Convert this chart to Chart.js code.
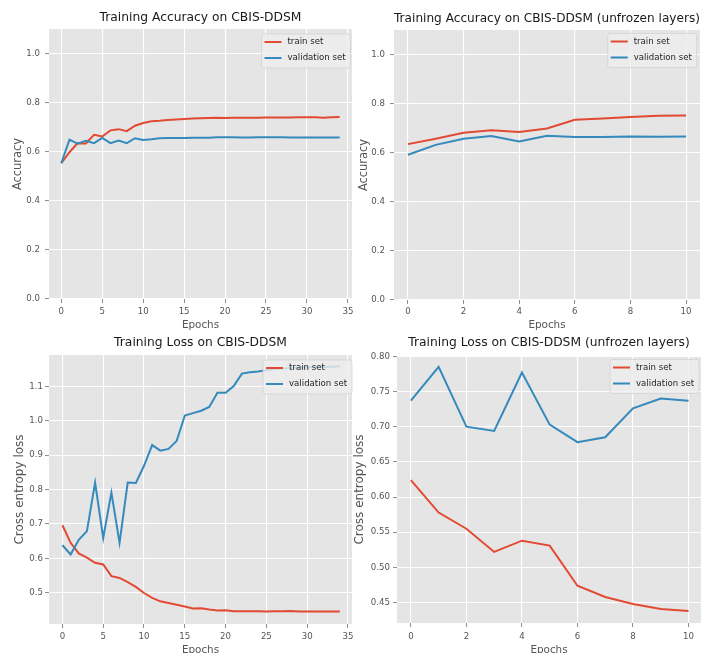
<!DOCTYPE html>
<html>
<head>
<meta charset="utf-8">
<script src="https://cdn.jsdelivr.net/npm/chart.js@4.4.0/dist/chart.umd.min.js"></script>
<style>
  html, body { margin: 0; padding: 0; background: #fff; }
  #wrap { position: relative; width: 704px; height: 653px; overflow: hidden; }
  #wrap canvas { position: absolute; left: 0; top: 0; }
</style>
</head>
<body>
<div id="wrap">
  <canvas id="accFull" width="704" height="653"></canvas>
  <canvas id="accUnfrozen" width="704" height="653"></canvas>
  <canvas id="lossFull" width="704" height="653"></canvas>
  <canvas id="lossUnfrozen" width="704" height="653"></canvas>
</div>
<script>
// epochs
const epochsFull = [0, 1, 2, 3, 4, 5, 6, 7, 8, 9, 10, 11, 12, 13, 14, 15, 16, 17, 18, 19, 20,
  21, 22, 23, 24, 25, 26, 27, 28, 29, 30, 31, 32, 33, 34];
const epochsUnfrozen = [0, 1, 2, 3, 4, 5, 6, 7, 8, 9, 10];

// accuracy, all epochs
const accTrainFull = [0.553, 0.598, 0.635, 0.634, 0.669, 0.662, 0.687, 0.692, 0.684, 0.706, 0.717,
  0.724, 0.726, 0.729, 0.731, 0.733, 0.735, 0.736, 0.737, 0.738, 0.737, 0.738, 0.738, 0.738, 0.738,
  0.739, 0.739, 0.739, 0.739, 0.740, 0.740, 0.740, 0.738, 0.740, 0.741];
const accValFull = [0.553, 0.649, 0.633, 0.645, 0.635, 0.656, 0.635, 0.646, 0.635, 0.655, 0.648,
  0.651, 0.655, 0.656, 0.656, 0.656, 0.657, 0.657, 0.657, 0.659, 0.659, 0.659, 0.658, 0.658, 0.659,
  0.659, 0.659, 0.659, 0.658, 0.658, 0.658, 0.658, 0.658, 0.658, 0.658];

// accuracy, unfrozen layers
const accTrainUnfrozen = [0.635, 0.657, 0.681, 0.692, 0.684, 0.699, 0.734, 0.739, 0.746, 0.751, 0.752];
const accValUnfrozen = [0.592, 0.632, 0.657, 0.668, 0.646, 0.669, 0.664, 0.664, 0.666, 0.665, 0.666];

// loss, all epochs
const lossTrainFull = [0.696, 0.645, 0.614, 0.602, 0.587, 0.582, 0.548, 0.543, 0.531, 0.517, 0.499,
  0.485, 0.475, 0.470, 0.465, 0.460, 0.454, 0.455, 0.451, 0.448, 0.449, 0.446, 0.446, 0.446, 0.446,
  0.445, 0.446, 0.446, 0.447, 0.445, 0.445, 0.445, 0.445, 0.445, 0.445];
const lossValFull = [0.638, 0.611, 0.654, 0.679, 0.820, 0.659, 0.791, 0.645, 0.820, 0.819, 0.869,
  0.929, 0.913, 0.918, 0.941, 1.015, 1.022, 1.029, 1.040, 1.081, 1.081, 1.101, 1.137, 1.141, 1.143,
  1.147, 1.150, 1.152, 1.153, 1.154, 1.155, 1.156, 1.156, 1.157, 1.158];

// loss, unfrozen layers
const lossTrainUnfrozen = [0.624, 0.578, 0.555, 0.522, 0.538, 0.531, 0.474, 0.458, 0.448, 0.441, 0.438];
const lossValUnfrozen = [0.737, 0.785, 0.700, 0.694, 0.777, 0.703, 0.678, 0.685, 0.726, 0.740, 0.737];

// tick values
const xTicksFull = [0, 5, 10, 15, 20, 25, 30, 35];
const xTicksUnfrozen = [0, 2, 4, 6, 8, 10];
const accTicks = [0.0, 0.2, 0.4, 0.6, 0.8, 1.0];
const lossTicksFull = [0.5, 0.6, 0.7, 0.8, 0.9, 1.0, 1.1];
const lossTicksUnfrozen = [0.45, 0.50, 0.55, 0.60, 0.65, 0.70, 0.75, 0.80];

const seriesLabels = ['train set', 'validation set'];

const W = 704, H = 653;
const FONT = "'DejaVu Sans', sans-serif";
const TITLE_SIZE = 12.3, XLABEL_SIZE = 10.4, TICK_SIZE = 8.6, LH = 1.2, TICK_LEN = 4;
const RED = '#E24A33', BLUE = '#348ABD';
const TEXT_GREY = '#555555';

function toPoints(xs, ys) {
  return xs.map((x, i) => ({ x: x, y: ys[i] }));
}

const plotBg = {
  id: 'plotBg',
  beforeDraw(chart) {
    const a = chart.chartArea, ctx = chart.ctx;
    ctx.save();
    ctx.fillStyle = '#E5E5E5';
    ctx.fillRect(a.left, a.top, a.right - a.left, a.bottom - a.top);
    ctx.restore();
  }
};

// matplotlib-like legend box in the upper right of the axes
function boxLegend(geo) {
  return {
    id: 'boxLegend',
    afterDatasetsDraw(chart) {
      const a = chart.chartArea, ctx = chart.ctx;
      const bw = 89, bh = 34;
      const bx = a.right - geo.right - bw, by = a.top + geo.top;
      ctx.save();
      ctx.beginPath();
      if (ctx.roundRect) ctx.roundRect(bx, by, bw, bh, 2.5); else ctx.rect(bx, by, bw, bh);
      ctx.fillStyle = 'rgba(238,238,238,0.8)';
      ctx.fill();
      ctx.strokeStyle = 'rgba(204,204,204,0.8)';
      ctx.lineWidth = 0.8;
      ctx.stroke();
      ctx.font = TICK_SIZE + 'px ' + FONT;
      ctx.textBaseline = 'middle';
      ctx.textAlign = 'left';
      chart.data.datasets.forEach((ds, i) => {
        const y = by + 8 + i * 16;
        ctx.strokeStyle = ds.borderColor;
        ctx.lineWidth = 2;
        ctx.beginPath();
        ctx.moveTo(bx + 3, y);
        ctx.lineTo(bx + 20, y);
        ctx.stroke();
        ctx.fillStyle = '#262626';
        ctx.fillText(ds.label, bx + 26, y);
      });
      ctx.restore();
    }
  };
}

function buildChart(id, spec) {
  const a = spec.area;
  const tLH = TITLE_SIZE * LH, xlLH = XLABEL_SIZE * LH, ylLH = spec.yLabelSize * LH, kLH = TICK_SIZE * LH;
  const gridOpts = { color: '#ffffff', lineWidth: 1.1, drawTicks: true, tickLength: TICK_LEN, tickColor: '#8a8a8a', tickWidth: 1 };
  return new Chart(document.getElementById(id).getContext('2d'), {
    type: 'line',
    data: {
      datasets: [
        { label: seriesLabels[0], data: toPoints(spec.x, spec.train), borderColor: RED, order: 1 },
        { label: seriesLabels[1], data: toPoints(spec.x, spec.val), borderColor: BLUE, order: 0 }
      ]
    },
    options: {
      responsive: false,
      animation: false,
      events: [],
      layout: { padding: { left: 0, top: 0, right: W - a.r, bottom: 0 } },
      elements: {
        line: { borderWidth: 2, tension: 0, fill: false },
        point: { radius: 0 }
      },
      plugins: {
        legend: { display: false },
        tooltip: { enabled: false },
        title: {
          display: true,
          text: spec.title,
          fullSize: false,
          color: '#1a1a1a',
          font: { family: FONT, size: TITLE_SIZE, weight: 'normal', lineHeight: LH },
          padding: { top: spec.titleY - tLH / 2, bottom: a.t - spec.titleY - tLH / 2 }
        }
      },
      scales: {
        x: {
          type: 'linear',
          position: 'bottom',
          min: spec.xMin,
          max: spec.xMax,
          afterBuildTicks: s => { s.ticks = spec.xTicks.map(v => ({ value: v })); },
          afterFit: s => { s.height = H - a.b; },
          grid: gridOpts,
          border: { display: false },
          ticks: {
            autoSkip: false, maxRotation: 0, color: TEXT_GREY,
            font: { family: FONT, size: TICK_SIZE, lineHeight: LH },
            padding: spec.xTickY - a.b - TICK_LEN - kLH / 2,
            callback: v => String(v)
          },
          title: {
            display: true, text: 'Epochs', color: TEXT_GREY,
            font: { family: FONT, size: XLABEL_SIZE, lineHeight: LH },
            padding: { top: 0, bottom: H - spec.xLabelY - xlLH / 2 }
          }
        },
        y: {
          type: 'linear',
          position: 'left',
          min: spec.yMin,
          max: spec.yMax,
          afterBuildTicks: s => { s.ticks = spec.yTicks.map(v => ({ value: v })); },
          afterFit: s => { s.width = a.l; },
          grid: gridOpts,
          border: { display: false },
          ticks: {
            color: TEXT_GREY,
            font: { family: FONT, size: TICK_SIZE, lineHeight: LH },
            padding: a.l - TICK_LEN - spec.yTickRight,
            callback: v => v.toFixed(spec.decimals)
          },
          title: {
            display: true, text: spec.yLabel, color: TEXT_GREY,
            font: { family: FONT, size: spec.yLabelSize, lineHeight: LH },
            padding: { top: spec.yLabelX - ylLH / 2, bottom: 0 }
          }
        }
      }
    },
    plugins: [plotBg, boxLegend(spec.legend)]
  });
}

buildChart('accFull', {
  title: 'Training Accuracy on CBIS-DDSM', yLabel: 'Accuracy', yLabelSize: 11.4,
  x: epochsFull, train: accTrainFull, val: accValFull,
  xTicks: xTicksFull, yTicks: accTicks, decimals: 1,
  xMin: -1.5, xMax: 35.5, yMin: 0, yMax: 1.1,
  area: { l: 49, r: 352, t: 29, b: 299 },
  titleY: 18.3, xLabelY: 325, yLabelX: 18, xTickY: 311.7, yTickRight: 40,
  legend: { right: 1.5, top: 5 }
});

buildChart('accUnfrozen', {
  title: 'Training Accuracy on CBIS-DDSM (unfrozen layers)', yLabel: 'Accuracy', yLabelSize: 11.4,
  x: epochsUnfrozen, train: accTrainUnfrozen, val: accValUnfrozen,
  xTicks: xTicksUnfrozen, yTicks: accTicks, decimals: 1,
  xMin: -0.5, xMax: 10.5, yMin: 0, yMax: 1.1,
  area: { l: 394, r: 700, t: 30, b: 300 },
  titleY: 19, xLabelY: 325, yLabelX: 364, xTickY: 311.7, yTickRight: 385,
  legend: { right: 3.3, top: 3.5 }
});

buildChart('lossFull', {
  title: 'Training Loss on CBIS-DDSM', yLabel: 'Cross entropy loss', yLabelSize: 12,
  x: epochsFull, train: lossTrainFull, val: lossValFull,
  xTicks: xTicksFull, yTicks: lossTicksFull, decimals: 1,
  xMin: -1.65, xMax: 35.5, yMin: 0.409, yMax: 1.191,
  area: { l: 49, r: 352, t: 355, b: 624 },
  titleY: 343.3, xLabelY: 650, yLabelX: 20, xTickY: 636.7, yTickRight: 43,
  legend: { right: 0, top: 5 }
});

buildChart('lossUnfrozen', {
  title: 'Training Loss on CBIS-DDSM (unfrozen layers)', yLabel: 'Cross entropy loss', yLabelSize: 12,
  x: epochsUnfrozen, train: lossTrainUnfrozen, val: lossValUnfrozen,
  xTicks: xTicksUnfrozen, yTicks: lossTicksUnfrozen, decimals: 2,
  xMin: -0.5, xMax: 10.45, yMin: 0.421, yMax: 0.8005,
  area: { l: 397, r: 701, t: 356, b: 623 },
  titleY: 343.3, xLabelY: 650, yLabelX: 360, xTickY: 636.7, yTickRight: 390,
  legend: { right: 2, top: 3.5 }
});
</script>
</body>
</html>
